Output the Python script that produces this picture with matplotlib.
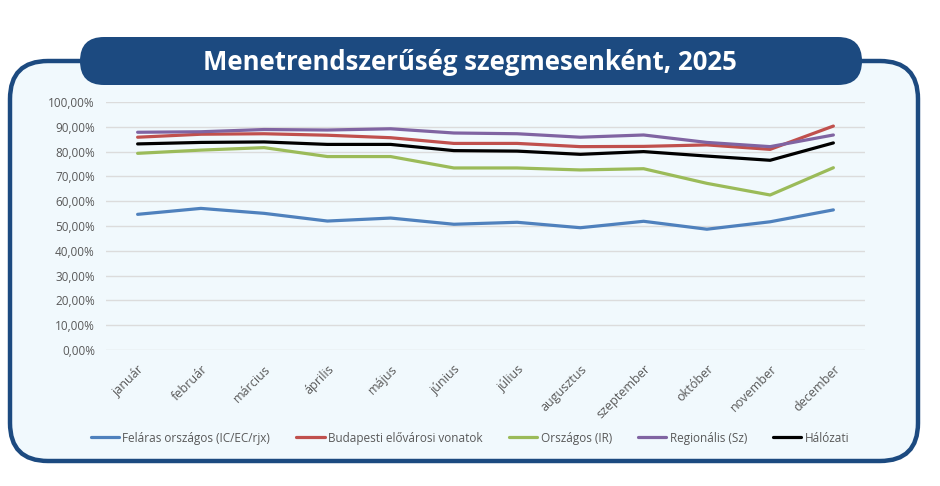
import matplotlib
matplotlib.use('Agg')
import matplotlib.pyplot as plt
from matplotlib.patches import FancyBboxPatch
from matplotlib.ticker import FuncFormatter

plt.rcParams['font.family'] = ['Open Sans', 'DejaVu Sans']

# adatok
honapok = ['január', 'február', 'március', 'április', 'május', 'június',
           'július', 'augusztus', 'szeptember', 'október', 'november', 'december']
felaras = [54.7, 57.1, 55.1, 52.0, 53.2, 50.7, 51.5, 49.3, 51.9, 48.7, 51.7, 56.5]
budapesti = [85.8, 87.0, 87.2, 86.6, 85.6, 83.3, 83.3, 82.0, 82.1, 82.7, 80.9, 90.3]
orszagos = [79.3, 80.6, 81.6, 78.0, 78.0, 73.4, 73.4, 72.6, 73.1, 67.2, 62.5, 73.5]
regionalis = [87.8, 88.0, 88.9, 88.7, 89.2, 87.5, 87.2, 85.8, 86.7, 83.7, 82.0, 86.7]
halozati = [83.1, 83.7, 83.9, 82.9, 82.9, 80.4, 80.2, 78.9, 80.0, 78.2, 76.5, 83.5]

sorozatok = [
    ('Feláras országos (IC/EC/rjx)', felaras, '#4f81bd'),
    ('Budapesti elővárosi vonatok', budapesti, '#c0504d'),
    ('Országos (IR)', orszagos, '#9bbb59'),
    ('Regionális (Sz)', regionalis, '#8064a2'),
    ('Hálózati', halozati, '#000000'),
]

W, H = 940, 486
navy = '#1c4a80'
fig = plt.figure(figsize=(W / 100, H / 100), dpi=100)
fig.patch.set_facecolor('white')

# háttér keret (pixel koordináták)
bg = fig.add_axes([0, 0, 1, 1])
bg.set_xlim(0, W)
bg.set_ylim(H, 0)
bg.axis('off')
bg.add_patch(FancyBboxPatch((10 + 38, 61 + 38), 908 - 76, 400 - 76,
                            boxstyle='round,pad=38', fc='#f1f9fd', ec=navy, lw=3.2))
bg.add_patch(FancyBboxPatch((80 + 24, 37 + 24), 782 - 48, 48 - 48,
                            boxstyle='round,pad=24', fc=navy, ec='none'))
bg.text(W / 2, 62, 'Menetrendszerűség szegmesenként, 2025', color='white',
        fontsize=18.5, fontweight='bold', ha='center', va='center')

# diagram
ax = fig.add_axes([106 / W, 1 - 350 / H, (865 - 106) / W, (350 - 102) / H])
ax.set_facecolor('none')
x = list(range(len(honapok)))
for nev, ertek, szin in sorozatok:
    ax.plot(x, [v / 100 for v in ertek], color=szin, lw=2.3, label=nev,
            solid_capstyle='round', zorder=3)

ax.set_xlim(-0.5, 11.5)
ax.set_ylim(0, 1)
ax.set_yticks([i / 10 for i in range(11)])
ax.yaxis.set_major_formatter(FuncFormatter(lambda v, p: ('%.2f%%' % (v * 100)).replace('.', ',')))
ax.grid(axis='y', color='#dcdcdc', lw=1)
ax.set_axisbelow(True)
for s in ax.spines.values():
    s.set_visible(False)
ax.tick_params(length=0, colors='#595959', labelsize=8.5)
ax.tick_params(axis='y', pad=8)
ax.set_xticks(x)
ax.set_xticklabels(honapok, rotation=45, ha='right', rotation_mode='anchor')
ax.tick_params(axis='x', pad=9, labelsize=9)

fig.legend(loc='center', bbox_to_anchor=(0.5, 1 - 438 / H), ncol=5, frameon=False,
           fontsize=8.5, labelcolor='#595959', handlelength=2.4, handletextpad=0.3,
           columnspacing=2.2)

fig.savefig('out.png', dpi=100)
